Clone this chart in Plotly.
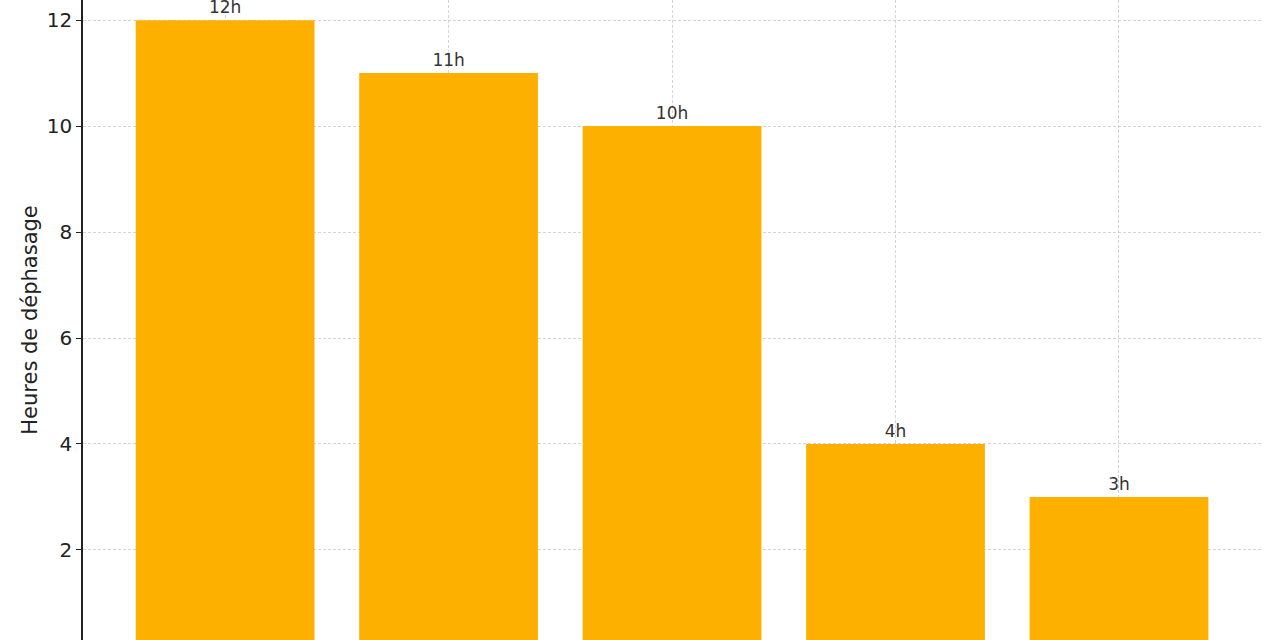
import plotly.graph_objects as go

categories = ["A", "B", "C", "D", "E"]
values = [12, 11, 10, 4, 3]
labels = ["12h", "11h", "10h", "4h", "3h"]

fig = go.Figure(go.Bar(
    x=list(range(len(categories))),
    y=values,
    width=0.8,
    marker=dict(color="#FDB000", line=dict(width=0)),
    text=labels,
    textposition="outside",
    textfont=dict(size=17, color="#333333", family="DejaVu Sans"),
    cliponaxis=False,
))

grid = "rgba(185,185,185,0.6)"
fig.update_layout(
    width=1280, height=640,
    margin=dict(l=83, r=18, t=0, b=0, autoexpand=False),
    paper_bgcolor="white", plot_bgcolor="white",
    showlegend=False,
    font=dict(family="DejaVu Sans", color="#222222"),
    xaxis=dict(
        range=[-0.636, 4.64],
        tickvals=list(range(len(categories))),
        showticklabels=False,
        showgrid=True, gridcolor=grid, griddash="3px,2px", gridwidth=1,
        zeroline=False, showline=False, automargin=False,
        layer="above traces",
    ),
    yaxis=dict(
        range=[0.30, 12.38],
        tickvals=[2, 4, 6, 8, 10, 12],
        tickfont=dict(size=20, color="#222222"),
        ticks="outside", ticklen=5, tickcolor="#222222", tickwidth=1.2,
        showgrid=True, gridcolor=grid, griddash="3px,2px", gridwidth=1,
        zeroline=False, automargin=False,
        showline=True, linecolor="#222222", linewidth=1.5,
        title=dict(text="Heures de déphasage", font=dict(size=21, color="#222222"), standoff=3),
        layer="above traces",
    ),
)

fig.write_html(
    "out.html",
    config={"displayModeBar": False},
    post_script="document.body.style.margin='0';document.body.style.overflow='hidden';",
)
